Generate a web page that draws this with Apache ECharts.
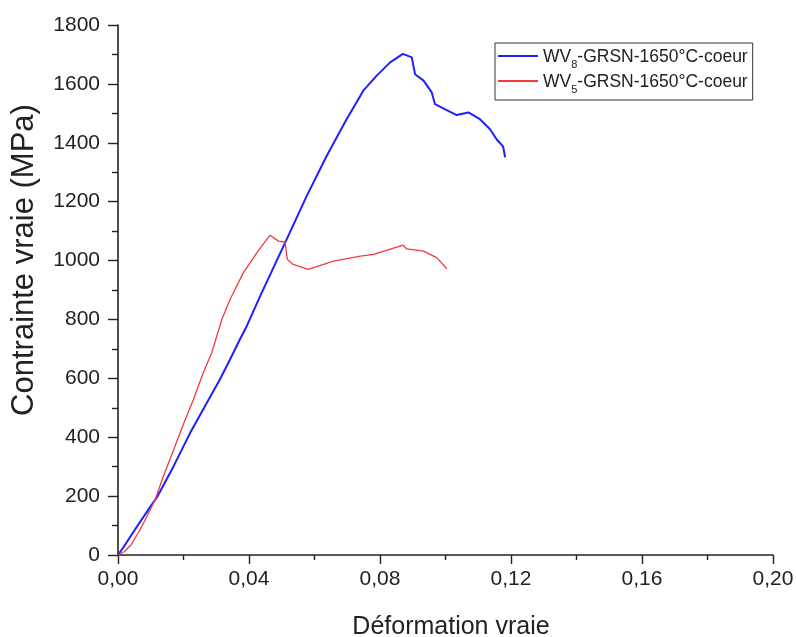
<!DOCTYPE html>
<html>
<head>
<meta charset="utf-8">
<script src="https://cdn.jsdelivr.net/npm/echarts@6/dist/echarts.min.js"></script>
<style>html,body{margin:0;padding:0;background:#fff;}#c{width:796px;height:637px;}</style>
</head>
<body>
<div id="c"></div>
<script>
var seriesNames = ['WV8-GRSN-1650°C-coeur', 'WV5-GRSN-1650°C-coeur'];
var blueData = [[0,0],[0.002,32],[0.004,66],[0.006,100],[0.008,133],[0.010,166],[0.012,198],[0.0169,300],[0.022,414],[0.0271,516],[0.0311,596],[0.0342,664],[0.0372,732],[0.0393,777],[0.0434,879],[0.047,965],[0.0515,1072],[0.0576,1219],[0.0637,1355],[0.0698,1480],[0.0749,1577],[0.079,1628],[0.0831,1673],[0.087,1702],[0.0897,1690],[0.0907,1633],[0.0933,1611],[0.0958,1571],[0.0968,1531],[0.0998,1514],[0.1034,1494],[0.107,1503],[0.1105,1480],[0.1136,1446],[0.1156,1412],[0.1176,1387],[0.1182,1351]];
var redData = [[0,0],[0.002,12],[0.004,35],[0.0067,85],[0.009,135],[0.0113,187],[0.0138,266],[0.0174,369],[0.0205,459],[0.023,527],[0.026,618],[0.0286,686],[0.0317,800],[0.0342,868],[0.0383,959],[0.0424,1027],[0.0464,1086],[0.049,1066],[0.051,1063],[0.0517,1004],[0.0535,987],[0.0581,970],[0.0658,998],[0.074,1015],[0.078,1021],[0.0871,1052],[0.0881,1040],[0.0933,1032],[0.0973,1010],[0.1004,972]];
var xTicks = {min: 0, max: 0.20, interval: 0.04};
var yTicks = {min: 0, max: 1800, interval: 200};

var chart = echarts.init(document.getElementById('c'));
var font = 'Liberation Sans, Arial, sans-serif';
chart.setOption({
  animation: false,
  backgroundColor: '#fff',
  grid: {left: 118, top: 25, right: 23, bottom: 82, containLabel: false, outerBoundsMode: 'none'},
  legend: {
    orient: 'vertical', left: 495, top: 43,
    padding: [5, 5, 5, 3], itemGap: 3, itemWidth: 40, itemHeight: 2,
    borderColor: '#333', borderWidth: 1,
    icon: 'rect',
    data: seriesNames,
    formatter: function (n) {
      var m = n.match(/^WV(\d)(.*)$/);
      return '{a|WV}{s|' + m[1] + '}{a|' + m[2] + '}';
    },
    textStyle: {
      fontFamily: font, color: '#222',
      rich: {
        a: {fontSize: 17.5, fontFamily: font, color: '#222', lineHeight: 20, verticalAlign: 'bottom'},
        s: {fontSize: 11, fontFamily: font, color: '#222', lineHeight: 20, verticalAlign: 'bottom', padding: [0, 0, -4, 0]}
      }
    }
  },
  xAxis: {
    type: 'value', min: xTicks.min, max: xTicks.max, interval: xTicks.interval,
    name: 'Déformation vraie', nameLocation: 'middle', nameGap: 60,
    nameTextStyle: {fontSize: 25, fontFamily: font, color: '#222', padding: [0, 0, 0, 11]},
    axisLine: {show: true, lineStyle: {color: '#222', width: 1.6}},
    axisTick: {show: true, inside: false, length: 9, lineStyle: {color: '#222', width: 1.4}},
    minorTick: {show: true, splitNumber: 2, length: 5, lineStyle: {color: '#222', width: 1.4}},
    splitLine: {show: false},
    axisLabel: {fontSize: 21, fontFamily: font, color: '#222', margin: 14,
      formatter: function (v) { return v.toFixed(2).replace('.', ','); }}
  },
  yAxis: {
    type: 'value', min: yTicks.min, max: yTicks.max, interval: yTicks.interval,
    name: 'Contrainte vraie (MPa)', nameLocation: 'middle', nameGap: 78,
    nameTextStyle: {fontSize: 31, fontFamily: font, color: '#222', padding: [0, 0, 0, 60]},
    axisLine: {show: true, lineStyle: {color: '#222', width: 1.6}},
    axisTick: {show: true, inside: false, length: 10, lineStyle: {color: '#222', width: 1.4}},
    minorTick: {show: true, splitNumber: 2, length: 6, lineStyle: {color: '#222', width: 1.4}},
    splitLine: {show: false},
    axisLabel: {fontSize: 21, fontFamily: font, color: '#222', margin: 18,
      formatter: function (v) { return String(v); }}
  },
  series: [
    {name: seriesNames[0], type: 'line', data: blueData, symbol: 'none', smooth: false,
      lineStyle: {color: '#1f1fff', width: 2}, itemStyle: {color: '#1f1fff'}},
    {name: seriesNames[1], type: 'line', data: redData, symbol: 'none', smooth: false,
      lineStyle: {color: '#f03c3c', width: 1.3}, itemStyle: {color: '#f03c3c'}}
  ]
});
</script>
</body>
</html>
